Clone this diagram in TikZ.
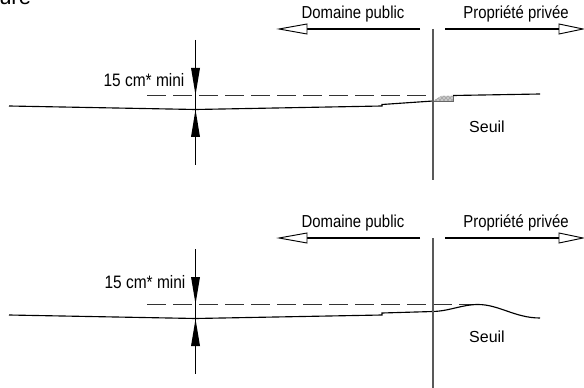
\documentclass[tikz,border=0pt]{standalone}
\usepackage{fontspec}
\setmainfont{Liberation Sans}
\usetikzlibrary{patterns}
\tikzset{x=0.75pt,y=-0.75pt,
  lbl/.style={inner sep=0pt,text=black,font=\fontsize{13pt}{15pt}\selectfont},
  narrowlbl/.style={lbl,xscale=0.86},
  ln/.style={line width=0.85pt,black},
  divider/.style={line width=1.4pt,black!65},
  dim/.style={line width=0.8pt,black},
  dashline/.style={line width=0.8pt,black!80,dash pattern=on 14pt off 5.5pt},
  solidhead/.style={fill=black,draw=none},
  openhead/.style={fill=white,draw=black,line width=0.7pt}}
\begin{document}
\begin{tikzpicture}
\useasboundingbox (0,0) rectangle (584,388);
\clip (0,0) rectangle (584,388);
\node[anchor=base west,inner sep=0pt,font=\fontsize{16.5pt}{18pt}\selectfont] (ure) at (-1,5) {ure};

% --- top figure ---
\coordinate (t1) at (195.5,40); \coordinate (t2) at (195.5,165);
\coordinate (dt1) at (147,95.5); \coordinate (dt2) at (432,95.5);
\draw[dim] (t1) -- (t2);
\draw[solidhead] (191,68) -- (200,68) -- (195.5,95) -- cycle;
\draw[solidhead] (191,137) -- (200,137) -- (195.5,109.5) -- cycle;
\draw[dashline] (dt1) -- (dt2);
\path[fill=black!22] (433,101) -- (441,96) -- (453,96) -- (453,101) -- cycle;
\path[pattern=crosshatch dots,pattern color=black!70] (433,101) -- (441,96) -- (453,96) -- (453,101) -- cycle;
\draw[ln] (9,106) -- (195.5,109.5) -- (382,106) -- (382,104.5) -- (433,101);
\draw[ln] (453,95.5) -- (540,94);
\draw[line width=0.4pt,black!60] (433,101) -- (453,101) -- (453,96);
\coordinate (dv1) at (433,29); \coordinate (dv2) at (433,180);
\draw[divider] (dv1) -- (dv2);
\coordinate (la) at (420,29); \coordinate (lb) at (307,29);
\coordinate (ra) at (445,29); \coordinate (rb) at (559,29);
\draw[ln] (la) -- (lb);
\draw[ln] (ra) -- (rb);
\draw[openhead] (307,24) -- (307,34) -- (279,29) -- cycle;
\draw[openhead] (559,24) -- (559,34) -- (583,29) -- cycle;
\node[narrowlbl] (dp1) at (353,14) {Domaine public};
\node[narrowlbl] (pp1) at (516,14) {Propriété privée};
\node[narrowlbl,font=\fontsize{13.5pt}{15pt}\selectfont] (cm1) at (144,80) {15 cm* mini};
\node[lbl,font=\fontsize{12pt}{14pt}\selectfont] (s1) at (487,127) {Seuil};

% --- bottom figure ---
\coordinate (b1) at (195.5,249); \coordinate (b2) at (195.5,374);
\coordinate (db1) at (147,304.5); \coordinate (db2) at (478,304.5);
\draw[dim] (b1) -- (b2);
\draw[solidhead] (191,277) -- (200,277) -- (195.5,304) -- cycle;
\draw[solidhead] (191,346) -- (200,346) -- (195.5,319) -- cycle;
\draw[dashline] (db1) -- (db2);
\draw[ln] (9,315) -- (195.5,318.5) -- (382,315) -- (382,313) -- (433,311.5)
  .. controls (450,311) and (462,304.5) .. (478,304.5)
  .. controls (499,304.5) and (515,318) .. (540,318);
\coordinate (dw1) at (433,238); \coordinate (dw2) at (433,388);
\draw[divider] (dw1) -- (dw2);
\coordinate (lc) at (420,238); \coordinate (ld) at (307,238);
\coordinate (rc) at (445,238); \coordinate (rd) at (559,238);
\draw[ln] (lc) -- (ld);
\draw[ln] (rc) -- (rd);
\draw[openhead] (307,233) -- (307,243) -- (279,238) -- cycle;
\draw[openhead] (559,233) -- (559,243) -- (583,238) -- cycle;
\node[narrowlbl] (dp2) at (353,223) {Domaine public};
\node[narrowlbl] (pp2) at (516,223) {Propriété privée};
\node[narrowlbl,font=\fontsize{13.5pt}{15pt}\selectfont] (cm2) at (145,282) {15 cm* mini};
\node[lbl,font=\fontsize{12pt}{14pt}\selectfont] (s2) at (487,337) {Seuil};
\end{tikzpicture}
\end{document}
